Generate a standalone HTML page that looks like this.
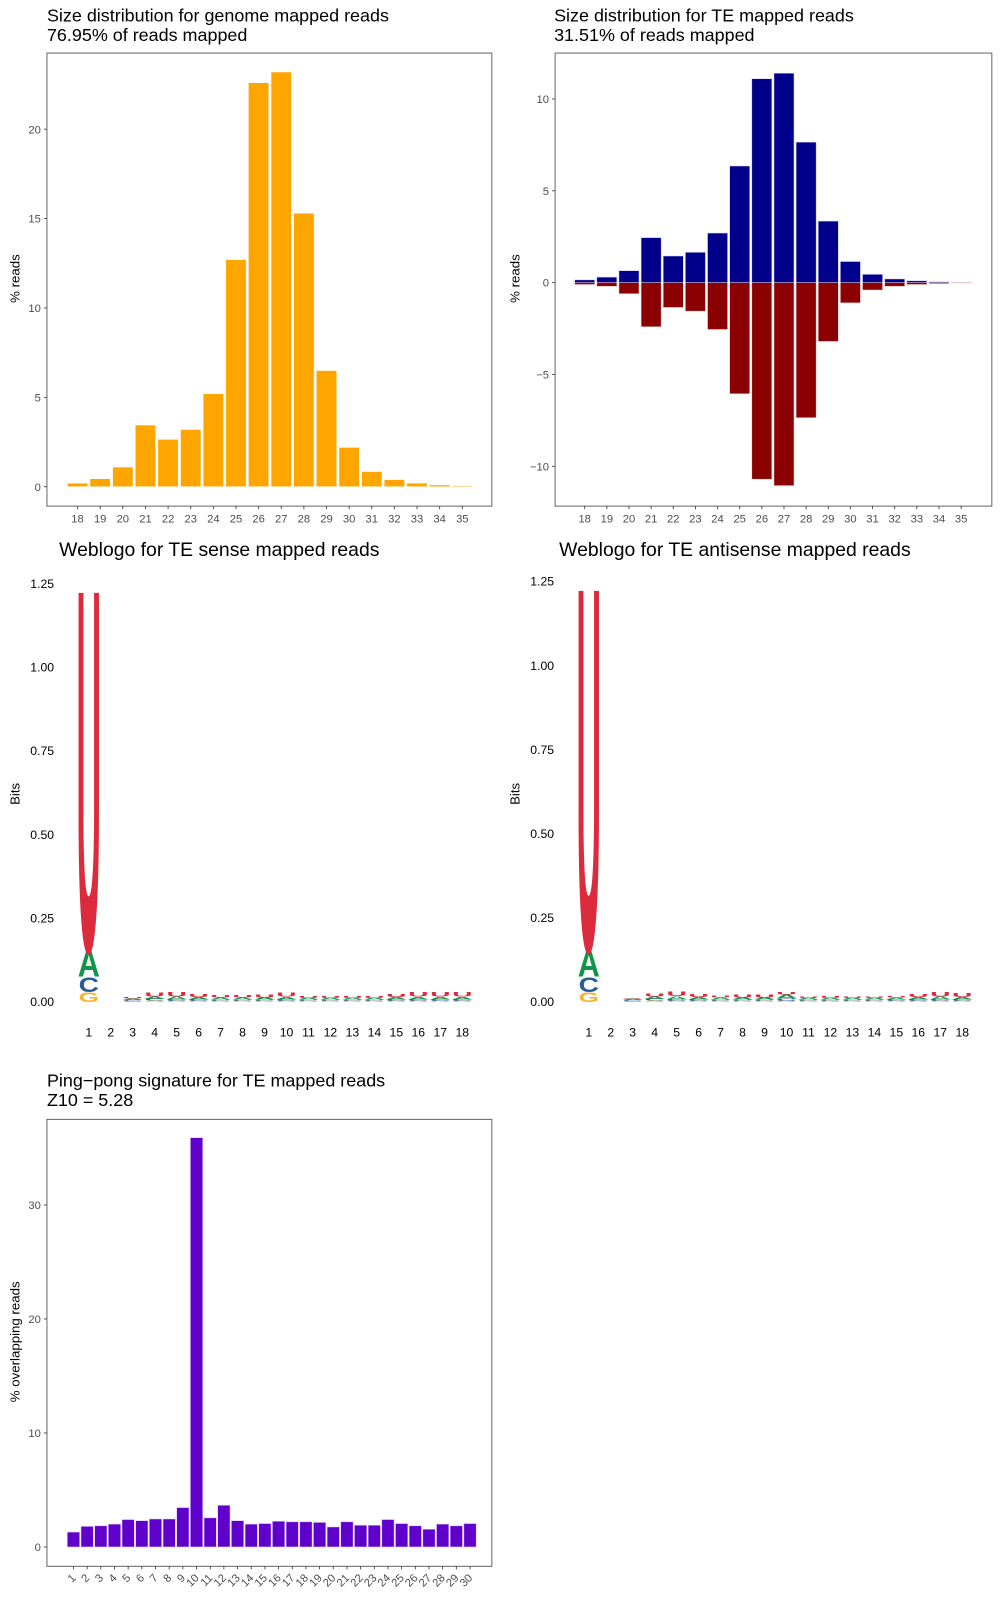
<!DOCTYPE html>
<html><head><meta charset="utf-8"><style>
html,body{margin:0;padding:0;background:#fff;}
svg{display:block;font-family:"Liberation Sans",Arial,sans-serif;}
</style></head><body>
<svg id="chart" width="1000" height="1600" viewBox="0 0 980 1568" xmlns="http://www.w3.org/2000/svg">
<text x="46" y="21" font-size="17.6">Size distribution for genome mapped reads</text>
<text x="46" y="40" font-size="17.6">76.95% of reads mapped</text>
<text x="543" y="21" font-size="17.6">Size distribution for TE mapped reads</text>
<text x="543" y="40" font-size="17.6">31.51% of reads mapped</text>
<text x="58" y="545" font-size="19">Weblogo for TE sense mapped reads</text>
<text x="548" y="545" font-size="19">Weblogo for TE antisense mapped reads</text>
<text x="46" y="1065" font-size="17.6">Ping−pong signature for TE mapped reads</text>
<text x="46" y="1084" font-size="17.6">Z10 = 5.28</text>
<g id="g1"></g><g id="g2"></g><g id="g3"></g><g id="g4"></g><g id="g5"></g>
</svg>
<script>
const sizeCats = [18,19,20,21,22,23,24,25,26,27,28,29,30,31,32,33,34,35];
const genomeVals = [0.2,0.45,1.1,3.45,2.65,3.2,5.2,12.7,22.6,23.2,15.3,6.5,2.2,0.85,0.4,0.2,0.1,0.05];
const senseVals = [0.15,0.3,0.65,2.45,1.45,1.65,2.7,6.35,11.1,11.4,7.65,3.35,1.15,0.45,0.2,0.1,0.05,0.02];
const antisenseVals = [0.1,0.2,0.6,2.4,1.35,1.55,2.55,6.05,10.7,11.05,7.35,3.2,1.1,0.4,0.2,0.1,0.05,0.02];
const genomeTicks = [0,5,10,15,20];
const teTicks = [-10,-5,0,5,10];
const ppCats = [1,2,3,4,5,6,7,8,9,10,11,12,13,14,15,16,17,18,19,20,21,22,23,24,25,26,27,28,29,30];
const ppVals = [1.3,1.8,1.85,2.0,2.4,2.3,2.45,2.45,3.45,35.9,2.55,3.65,2.3,2.0,2.05,2.25,2.2,2.2,2.15,1.75,2.2,1.9,1.9,2.4,2.05,1.85,1.55,2.0,1.85,2.05];
const ppTicks = [0,10,20,30];
const logoPositions = [1,2,3,4,5,6,7,8,9,10,11,12,13,14,15,16,17,18];
const logoTicks = [0,0.25,0.5,0.75,1.0,1.25];
const senseU = [1.13,0,0.004,0.012,0.014,0.01,0.008,0.007,0.01,0.012,0.006,0.006,0.005,0.006,0.01,0.014,0.014,0.014];
const senseA = [0.08,0,0.004,0.008,0.009,0.007,0.006,0.006,0.007,0.008,0.005,0.005,0.005,0.005,0.007,0.008,0.008,0.008];
const senseC = [0.046,0,0.004,0.005,0.005,0.005,0.004,0.004,0.004,0.005,0.004,0.004,0.004,0.004,0.005,0.005,0.005,0.005];
const senseG = [0.03,0,0.002,0.004,0.003,0.003,0.003,0.003,0.003,0.003,0.003,0.003,0.003,0.003,0.003,0.003,0.003,0.003];
const antiU = [1.13,0,0.002,0.01,0.014,0.01,0.006,0.009,0.01,0.008,0.004,0.005,0.004,0.004,0.004,0.009,0.013,0.011];
const antiA = [0.08,0,0.004,0.008,0.01,0.007,0.006,0.007,0.007,0.012,0.005,0.005,0.005,0.005,0.006,0.007,0.009,0.007];
const antiC = [0.046,0,0.004,0.005,0.005,0.005,0.004,0.004,0.004,0.007,0.004,0.004,0.004,0.004,0.005,0.005,0.005,0.005];
const antiG = [0.03,0,0.002,0.004,0.003,0.003,0.003,0.003,0.003,0.003,0.003,0.003,0.003,0.003,0.003,0.003,0.003,0.003];

const NS="http://www.w3.org/2000/svg";
function mk(parent, tag, attrs, text){
  const e=document.createElementNS(NS,tag);
  for(const k in attrs) e.setAttribute(k,attrs[k]);
  if(text!==undefined) e.textContent=text;
  parent.appendChild(e); return e;
}
function frame(g, x0,y0,x1,y1){
  const r=mk(g,'rect',{x:x0,y:y0,width:x1-x0,height:y1-y0,fill:'none',stroke:'#666','stroke-width':1});
  
  
}
function yAxis(g, ticks, yScale, xAxis, fmt, name){
  ticks.forEach(t=>{
    const y=yScale(t);
    mk(g,'line',{x1:xAxis-3,x2:xAxis,y1:y,y2:y,stroke:'#333','stroke-width':0.8});
    const tx=mk(g,'text',{x:xAxis-6,y:y+4,'font-size':11,fill:'#4d4d4d','text-anchor':'end'},fmt(t));
    
    
  });
}
function yTitle(g, x, y, label, name){
  const t=mk(g,'text',{x:x,y:y,'font-size':13,'text-anchor':'middle',transform:`rotate(-90 ${x} ${y})`},label);
  
  
}
const minus = v => (v<0?'−'+Math.abs(v):String(v));

(function(){
  const g=document.getElementById('g1');
  const x0=46,x1=482,y0=52,y1=496;
  const xs=i=>76+i*22.18, ys=v=>477-v*17.52, bw=20;
  frame(g,x0,y0,x1,y1);
  sizeCats.forEach((c,i)=>{
    const b=mk(g,'rect',{x:xs(i)-bw/2,y:ys(genomeVals[i]),width:bw,height:ys(0)-ys(genomeVals[i]),fill:'#FFA500',stroke:'#fff','stroke-width':0.5});
    
    
    mk(g,'line',{x1:xs(i),x2:xs(i),y1:y1,y2:y1+3,stroke:'#333','stroke-width':0.8});
    const t=mk(g,'text',{x:xs(i),y:y1+16,'font-size':11,fill:'#4d4d4d','text-anchor':'middle'},c);
    
    
  });
  yAxis(g,genomeTicks,ys,x0,String,'genome-y-tick');
  yTitle(g,19,273,'% reads','genome-y-title');
})();

(function(){
  const g=document.getElementById('g2');
  const x0=544,x1=972,y0=52,y1=496;
  const xs=i=>573+i*21.7, ys=v=>277-v*18.0, bw=19.6;
  frame(g,x0,y0,x1,y1);
  sizeCats.forEach((c,i)=>{
    const b=mk(g,'rect',{x:xs(i)-bw/2,y:ys(senseVals[i]),width:bw,height:ys(0)-ys(senseVals[i]),fill:'#00008B',stroke:'#c8c8f0','stroke-width':0.5});
    
    
    const a=mk(g,'rect',{x:xs(i)-bw/2,y:ys(0),width:bw,height:ys(-antisenseVals[i])-ys(0),fill:'#8B0000',stroke:'#f0c8c8','stroke-width':0.5});
    
    
    mk(g,'line',{x1:xs(i),x2:xs(i),y1:y1,y2:y1+3,stroke:'#333','stroke-width':0.8});
    const t=mk(g,'text',{x:xs(i),y:y1+16,'font-size':11,fill:'#4d4d4d','text-anchor':'middle'},c);
    
    
  });
  yAxis(g,teTicks,ys,x0,minus,'te-y-tick');
  yTitle(g,509,273,'% reads','te-y-title');
})();

const colors={U:'#DC2B3C',A:'#109648',C:'#255C99',G:'#F7B32B'};
const widths={U:0.722,A:0.667,C:0.722,G:0.778};
function letter(g, ch, xc, yb, w, h, name){
  if(h<=0.3) return;
  const sx=w/(widths[ch]*100), sy=h/(0.729*100);
  const t=mk(g,'text',{x:0,y:0,'font-size':100,'font-weight':'bold',fill:colors[ch],'text-anchor':'middle',transform:`translate(${xc} ${yb}) scale(${sx} ${sy})`},ch);
  
  
}
function logo(gid, xStart, y125, tickX, titleX, U, A, C, G, prefix){
  const g=document.getElementById(gid);
  const y0=982, bitPx=(y0-y125)/1.25;
  const xs=i=>xStart+i*21.53, ys=v=>y0-v*bitPx;
  logoTicks.forEach(t=>{
    const tx=mk(g,'text',{x:tickX,y:ys(t)+4,'font-size':12,fill:'#000','text-anchor':'end'},t.toFixed(2));
    
    
  });
  logoPositions.forEach((p,i)=>{
    const tx=mk(g,'text',{x:xs(i),y:1016,'font-size':12,fill:'#000','text-anchor':'middle'},p);
    
    
    let base=y0;
    [['G',G[i]],['C',C[i]],['A',A[i]],['U',U[i]]].forEach(([ch,v])=>{
      const h=v*bitPx;
      const w = ch==='U' && i===0 ? 24 : 20;
      letter(g,ch,xs(i),base,w,h,prefix+'-letter-'+ch);
      base-=h;
    });
  });
  yTitle(g,titleX,778,'Bits',prefix+'-y-title');
}
logo('g3',87,572,53,19,senseU,senseA,senseC,senseG,'sense-logo');
logo('g4',577,570,543,509,antiU,antiA,antiC,antiG,'antisense-logo');

(function(){
  const g=document.getElementById('g5');
  const x0=46,x1=482,y0=1097,y1=1535;
  const xs=i=>72+i*13.4, ys=v=>1516-v*11.17, bw=12;
  frame(g,x0,y0,x1,y1);
  ppCats.forEach((c,i)=>{
    const b=mk(g,'rect',{x:xs(i)-bw/2,y:ys(ppVals[i]),width:bw,height:ys(0)-ys(ppVals[i]),fill:'#5F00CC',stroke:'#d8c0f0','stroke-width':0.5});
    
    
    mk(g,'line',{x1:xs(i),x2:xs(i),y1:y1,y2:y1+3,stroke:'#333','stroke-width':0.8});
    const tx=xs(i)+3, ty=y1+12;
    const t=mk(g,'text',{x:tx,y:ty,'font-size':11,fill:'#4d4d4d','text-anchor':'end',transform:`rotate(-45 ${tx} ${ty})`},c);
    
    
  });
  yAxis(g,ppTicks,ys,x0,String,'pingpong-y-tick');
  yTitle(g,19,1315,'% overlapping reads','pingpong-y-title');
})();
</script>
</body></html>
